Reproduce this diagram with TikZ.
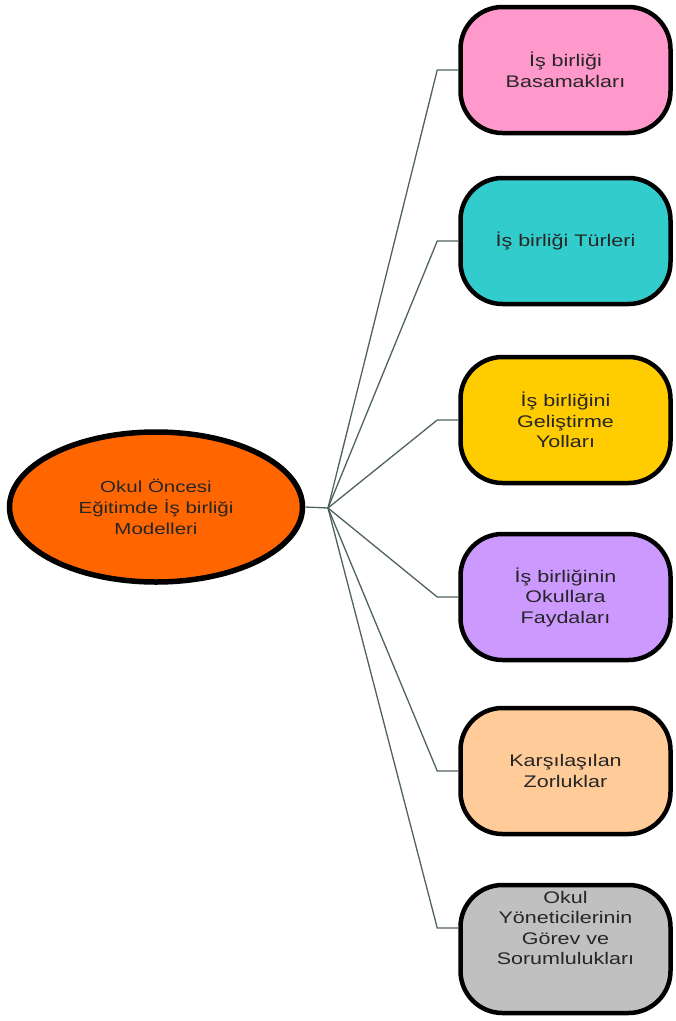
\documentclass[tikz,border=0pt]{standalone}
\usepackage{fontspec}
\setmainfont[FakeStretch=1.28]{Liberation Sans}
\usetikzlibrary{shapes.geometric}
\definecolor{mainorange}{HTML}{FF6600}
\definecolor{pinkfill}{HTML}{FF99CC}
\definecolor{tealfill}{HTML}{33CCCC}
\definecolor{goldfill}{HTML}{FFCC00}
\definecolor{lilacfill}{HTML}{CC99FF}
\definecolor{peachfill}{HTML}{FFCC99}
\definecolor{grayfill}{HTML}{C0C0C0}
\definecolor{linkcolor}{HTML}{4F6357}
\begin{document}
\begin{tikzpicture}[x=1pt, y=-1pt,
    topic/.style={draw=black, line width=4.5pt, rounded corners=42pt, minimum width=210pt, minimum height=126pt, align=center, text=black!85, font=\fontsize{16.8}{20.5}\selectfont},
    plain/.style={align=center, text=black!85, font=\fontsize{16.8}{20.5}\selectfont},
    main/.style={ellipse, draw=black, line width=5.5pt, fill=mainorange, minimum width=293pt, minimum height=150pt, inner sep=0pt, align=center, text=black!85, font=\fontsize{16}{21}\selectfont},
    link/.style={draw=linkcolor, line width=1.3pt}]
        \useasboundingbox (0,0) rectangle (676,1021);
        \node[main] (model) at (156,507) {Okul Öncesi\\Eğitimde İş birliği\\Modelleri};
        \coordinate (hub) at (328,508);
        \node[topic, fill=pinkfill] (steps) at (565.5,70) {İş birliği\\Basamakları};
        \node[topic, fill=tealfill] (types) at (565.5,241) {İş birliği Türleri};
        \node[topic, fill=goldfill] (ways) at (565.5,420) {İş birliğini\\Geliştirme\\Yolları};
        \node[topic, fill=lilacfill] (gains) at (565.5,597) {İş birliğinin\\Okullara\\Faydaları};
        \node[topic, fill=peachfill] (issues) at (565.5,771) {Karşılaşılan\\Zorluklar};
        \node[topic, fill=grayfill, minimum height=128pt] (duties) at (565.5,949) {};
        \node[plain] (dutiestext) at ([yshift=21pt]duties.center) {Okul\\Yöneticilerinin\\Görev ve\\Sorumlulukları};
        \draw[link] (model.east) -- (hub);
        \draw[link] (hub) -- ([xshift=-21pt]steps.west) -- (steps.west);
        \draw[link] (hub) -- ([xshift=-21pt]types.west) -- (types.west);
        \draw[link] (hub) -- ([xshift=-21pt]ways.west) -- (ways.west);
        \draw[link] (hub) -- ([xshift=-21pt]gains.west) -- (gains.west);
        \draw[link] (hub) -- ([xshift=-21pt]issues.west) -- (issues.west);
        \draw[link] (hub) -- ([xshift=-21pt,yshift=21pt]duties.west) -- ([yshift=21pt]duties.west);
    \end{tikzpicture}
\end{document}
